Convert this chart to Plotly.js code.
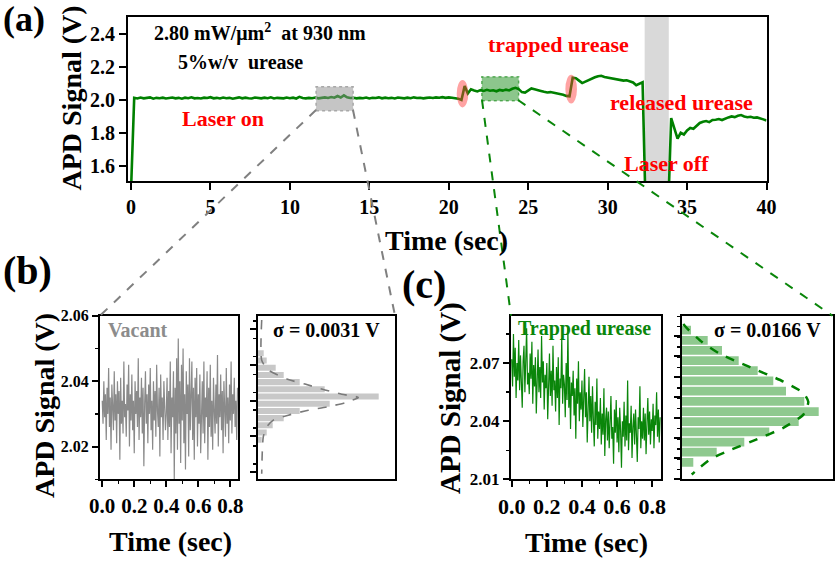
<!DOCTYPE html>
<html>
<head>
<meta charset="utf-8">
<script src="https://cdn.plot.ly/plotly-3.0.1.min.js"></script>
<style>
  html, body { margin: 0; padding: 0; background: #fff; }
  #chart { width: 837px; height: 569px; }
</style>
</head>
<body>
<div id="chart"></div>
<script>
// ---- data ----

// (a) whole APD record, one sample every 0.2 s (values below 1.5 V = laser off / off scale)
const aStep = 0.2;
const aSignal = [
  1.45,
  2.013, 2.009, 2.015, 2.010, 2.012, 2.016, 2.008, 2.013, 2.011, 2.014,
  2.009, 2.012, 2.015, 2.010, 2.013, 2.008, 2.014, 2.011, 2.016, 2.010,
  2.012, 2.009, 2.014, 2.012, 2.017, 2.010, 2.013, 2.009, 2.015, 2.011,
  2.013, 2.008, 2.012, 2.016, 2.010, 2.014, 2.011, 2.009, 2.015, 2.012,
  2.010, 2.014, 2.011, 2.016, 2.009, 2.013, 2.012, 2.010, 2.015, 2.011,
  2.014, 2.009, 2.019, 2.012, 2.010, 2.013, 2.011, 2.015, 2.010, 2.013,
  2.016, 2.012, 2.018, 2.014, 2.024, 2.015, 2.028, 2.016, 2.012, 2.014,
  2.010, 2.013, 2.011, 2.015, 2.009, 2.013, 2.012, 2.016, 2.010, 2.014,
  2.011, 2.013, 2.009, 2.015, 2.012, 2.010, 2.014, 2.011, 2.016, 2.012,
  2.014, 2.010, 2.013, 2.015, 2.012, 2.016, 2.014, 2.017, 2.013, 2.016,
  2.014, 2.012,
  2.008, 2.000, 2.085, 2.040, 2.065,
  2.058, 2.052, 2.060, 2.055, 2.062, 2.056, 2.059, 2.053, 2.061, 2.057,
  2.063, 2.058, 2.068, 2.074,
  2.066, 2.048, 2.045, 2.058, 2.070, 2.065, 2.058, 2.055, 2.050, 2.046,
  2.048, 2.044, 2.040, 2.038, 2.032, 2.025, 2.022, 2.135, 2.132, 2.118,
  2.103, 2.112, 2.122, 2.130, 2.138, 2.145, 2.147, 2.140, 2.137, 2.133,
  2.128, 2.128, 2.122, 2.118, 2.120, 2.112, 2.107, 2.090, 2.100, 2.108,
  1.3, 1.3, 1.3, 1.3, 1.3, 1.3, 1.3, 1.3,
  1.890, 1.830, 1.765, 1.800, 1.790, 1.815, 1.830, 1.825, 1.845, 1.860,
  1.868, 1.872, 1.865, 1.878, 1.880, 1.884, 1.878, 1.888, 1.894, 1.900,
  1.896, 1.904, 1.908, 1.900, 1.895, 1.898, 1.892, 1.894, 1.886, 1.882,
  1.875
];
const laserOffWindow = [32.33, 33.85];
const vacantWindow = { t: [11.65, 13.98], v: [1.935, 2.081] };
const trappedWindow = { t: [22.08, 24.4], v: [1.996, 2.142] };
const trapEvents = [
  { t: [20.5, 21.23], v: [1.955, 2.122] },
  { t: [27.34, 28.07], v: [1.979, 2.154] }
];

// (b) and (c) zoomed records, one sample every 5 ms
const zoomStep = 0.005;
const bSignal = [
  2.034, 2.027, 2.040, 2.029, 2.036, 2.022, 2.038, 2.030, 2.044, 2.026,
  2.035, 2.019, 2.039, 2.031, 2.025, 2.043, 2.028, 2.036, 2.021, 2.040,
  2.030, 2.037, 2.016, 2.041, 2.027, 2.034, 2.024, 2.046, 2.029, 2.033,
  2.023, 2.039, 2.031, 2.045, 2.020, 2.036, 2.028, 2.042, 2.025, 2.034,
  2.018, 2.040, 2.030, 2.037, 2.026, 2.047, 2.022, 2.035, 2.029, 2.041,
  2.024, 2.038, 2.014, 2.033, 2.043, 2.027, 2.036, 2.021, 2.039, 2.030,
  2.044, 2.025, 2.034, 2.019, 2.040, 2.028, 2.037, 2.023, 2.045, 2.031,
  2.026, 2.038, 2.017, 2.042, 2.029, 2.035, 2.022, 2.040, 2.032, 2.025,
  2.030, 2.041, 2.022, 2.037, 2.026, 2.046, 2.018, 2.035, 2.029, 2.043,
  2.010, 2.038, 2.024, 2.047, 2.019, 2.053, 2.027, 2.040, 2.015, 2.045,
  2.028, 2.050, 2.021, 2.036, 2.013, 2.043, 2.030, 2.039, 2.017, 2.047,
  2.025, 2.034, 2.046, 2.022, 2.038, 2.016, 2.041, 2.029, 2.044, 2.020,
  2.036, 2.027, 2.042, 2.018, 2.033, 2.040, 2.024, 2.046, 2.021, 2.035,
  2.029, 2.043, 2.016, 2.038, 2.026, 2.045, 2.023, 2.034, 2.019, 2.041,
  2.031, 2.024, 2.039, 2.027, 2.048, 2.020, 2.036, 2.029, 2.042, 2.025,
  2.037, 2.018, 2.040, 2.030, 2.023, 2.044, 2.027, 2.035, 2.021, 2.039,
  2.028, 2.046, 2.024, 2.036, 2.030, 2.041, 2.026, 2.034, 2.022, 2.038
];
const cSignal = [
  2.072, 2.058, 2.085, 2.063, 2.078, 2.052, 2.070, 2.061, 2.082, 2.056,
  2.074, 2.060, 2.047, 2.071, 2.079, 2.055, 2.068, 2.088, 2.059, 2.065,
  2.054, 2.075, 2.062, 2.081, 2.049, 2.069, 2.058, 2.073, 2.044, 2.066,
  2.077, 2.055, 2.068, 2.052, 2.084, 2.060, 2.071, 2.046, 2.064, 2.057,
  2.070, 2.041, 2.063, 2.075, 2.053, 2.066, 2.048, 2.079, 2.056, 2.061,
  2.045, 2.068, 2.052, 2.073, 2.038, 2.062, 2.057, 2.083, 2.049, 2.064,
  2.059, 2.042, 2.070, 2.051, 2.088, 2.047, 2.063, 2.036, 2.060, 2.053,
  2.066, 2.043, 2.057, 2.031, 2.062, 2.049, 2.071, 2.040, 2.055, 2.046,
  2.061, 2.037, 2.052, 2.067, 2.042, 2.055, 2.029, 2.049, 2.063, 2.040,
  2.053, 2.034, 2.058, 2.041, 2.027, 2.050, 2.038, 2.062, 2.031, 2.045,
  2.036, 2.052, 2.028, 2.044, 2.033, 2.057, 2.022, 2.041, 2.047, 2.030,
  2.045, 2.026, 2.040, 2.053, 2.031, 2.037, 2.018, 2.046, 2.034, 2.051,
  2.029, 2.042, 2.024, 2.047, 2.035, 2.016, 2.040, 2.032, 2.050, 2.027,
  2.043, 2.030, 2.061, 2.025, 2.039, 2.034, 2.048, 2.021, 2.037, 2.044,
  2.028, 2.046, 2.033, 2.019, 2.042, 2.036, 2.058, 2.026, 2.040, 2.031,
  2.047, 2.030, 2.044, 2.023, 2.039, 2.052, 2.033, 2.045, 2.028, 2.041,
  2.035, 2.049, 2.026, 2.043, 2.038, 2.055, 2.032, 2.046, 2.029, 2.042
];

// histograms (bin centre in V, count) and the gaussian fits
const bBins = [2.0485, 2.0463, 2.0441, 2.0419, 2.0397, 2.0375, 2.0353, 2.0331, 2.0309, 2.0287, 2.0265, 2.0243, 2.0221];
const bCounts = [6, 9, 18, 26, 42, 67, 121, 72, 42, 26, 15, 9, 4];
const bFitCounts = [4, 4, 10.6, 30.6, 47.3, 67.3, 84, 100.6, 87.3, 69, 50.6, 30.6, 15.6, 9, 5.6, 4];
const bFitV = [2.0587, 2.0464, 2.0434, 2.0405, 2.0391, 2.0373, 2.0360, 2.0350, 2.0334, 2.0321, 2.0311, 2.0296, 2.0281, 2.0260, 2.0230, 2.0117];

const cBins = [2.0871, 2.0818, 2.0766, 2.0713, 2.0661, 2.0608, 2.0555, 2.0503, 2.0450, 2.0398, 2.0345, 2.0292, 2.0240, 2.0187];
const cCounts = [9, 25.7, 40, 56.7, 75.7, 91.3, 104, 122.3, 136.7, 116.7, 87.3, 62.3, 34.7, 11.3];
const cFitCounts = [1.3, 5.3, 20.3, 38, 66.3, 101.3, 121.3, 126.3, 121.3, 101.3, 74.7, 49.7, 29.7, 13.7, 9.7];
const cFitV = [2.0902, 2.0878, 2.0808, 2.0748, 2.0683, 2.0605, 2.0546, 2.0500, 2.0434, 2.0366, 2.0306, 2.0254, 2.0208, 2.0143, 2.0125];

// ---- helpers ----
const W = 837, H = 569;
const serif = 'Liberation Serif';
const xd = (l, r) => [l / W, r / W];
const yd = (t, b) => [1 - b / H, 1 - t / H];
const sampleTimes = (n, step) => Array.from({ length: n }, (_, i) => +(i * step).toFixed(4));
const boldFont = (size) => ({ family: serif, size: size, color: 'black', weight: 700 });

function frame(extra) {
    return Object.assign({
        showline: true, linewidth: 2, linecolor: 'black', mirror: true,
        ticks: 'outside', ticklen: 6, tickwidth: 2, tickcolor: 'black',
        showgrid: false, zeroline: false,
        tickfont: boldFont(20)
    }, extra);
}
const minor = (dtick) => ({ dtick: dtick, ticks: 'outside', ticklen: 3, tickwidth: 1.5, tickcolor: 'black', showgrid: false });

function label(text, x, y, size, color, angle) {
    return {
        text: '<b>' + text + '</b>', xref: 'paper', yref: 'paper',
        x: x / W, y: 1 - y / H, xanchor: 'center', yanchor: 'middle',
        showarrow: false, textangle: angle || 0,
        font: { family: serif, size: size, color: color || 'black' }
    };
}

function connector(x0, y0, x1, y1, color) {
    return {
        type: 'line', xref: 'paper', yref: 'paper',
        x0: x0 / W, y0: 1 - y0 / H, x1: x1 / W, y1: 1 - y1 / H,
        line: { color: color, width: 2, dash: 'dash' }
    };
}

// ---- traces ----
const traces = [
    {
        x: sampleTimes(aSignal.length, aStep), y: aSignal,
        xaxis: 'x', yaxis: 'y', type: 'scatter', mode: 'lines',
        line: { color: '#008000', width: 2.6 }
    },
    {
        x: sampleTimes(bSignal.length, zoomStep), y: bSignal,
        xaxis: 'x2', yaxis: 'y2', type: 'scatter', mode: 'lines',
        line: { color: '#8a8a8a', width: 1.2 }
    },
    {
        x: bCounts, y: bBins, type: 'bar', orientation: 'h', width: 0.00185,
        xaxis: 'x3', yaxis: 'y3', marker: { color: '#c8c8c8' }
    },
    {
        x: bFitCounts, y: bFitV, xaxis: 'x3', yaxis: 'y3', type: 'scatter', mode: 'lines',
        line: { color: '#7a7a7a', width: 1.6, dash: 'dash', shape: 'spline', smoothing: 0.6 }
    },
    {
        x: sampleTimes(cSignal.length, zoomStep), y: cSignal,
        xaxis: 'x4', yaxis: 'y4', type: 'scatter', mode: 'lines',
        line: { color: '#0a860a', width: 1.2 }
    },
    {
        x: cCounts, y: cBins, type: 'bar', orientation: 'h', width: 0.0045,
        xaxis: 'x5', yaxis: 'y5', marker: { color: '#8fc98f' }
    },
    {
        x: cFitCounts, y: cFitV, xaxis: 'x5', yaxis: 'y5', type: 'scatter', mode: 'lines',
        line: { color: '#008000', width: 2.5, dash: 'dash', shape: 'spline', smoothing: 0.6 }
    }
];

// ---- layout ----
const rowB = yd(315.7, 479.3);
const layout = {
    width: W, height: H,
    margin: { l: 0, r: 0, t: 0, b: 0 },
    paper_bgcolor: 'white', plot_bgcolor: 'white',
    showlegend: false,
    font: { family: serif, color: 'black', weight: 700 },

    // (a)
    xaxis: frame({ domain: xd(128, 766.5), range: [-0.19, 40], dtick: 5, tick0: 0, ticklen: 7, anchor: 'y' }),
    yaxis: frame({ domain: yd(17, 181), range: [1.507, 2.505], dtick: 0.2, tick0: 1.6, ticklen: 7, tickformat: '.1f', anchor: 'x' }),

    // (b) time trace
    xaxis2: frame({ domain: xd(100, 238.3), range: [-0.014, 0.85], dtick: 0.2, tick0: 0, tickformat: '.1f',
        minor: minor(0.1), anchor: 'y2', tickfont: boldFont(21) }),
    yaxis2: frame({ domain: rowB, range: [2.01, 2.06], dtick: 0.02, tick0: 2.0, tickformat: '.2f',
        minor: minor(0.01), anchor: 'x2', tickfont: boldFont(16) }),
    // (b) histogram
    xaxis3: frame({ domain: xd(257.7, 395), range: [0, 137.3], ticks: '', showticklabels: false, anchor: 'y3' }),
    yaxis3: frame({ domain: rowB, range: [2.01, 2.06], tick0: 2.0122, dtick: 0.01092, showticklabels: false,
        minor: minor(0.00546), anchor: 'x3' }),

    // (c) time trace
    xaxis4: frame({ domain: xd(511, 661), range: [-0.004, 0.85], dtick: 0.2, tick0: 0, tickformat: '.1f',
        minor: minor(0.1), anchor: 'y4', tickfont: boldFont(22) }),
    yaxis4: frame({ domain: rowB, range: [2.01, 2.0945], dtick: 0.03, tick0: 2.01, tickformat: '.2f',
        minor: minor(0.015), anchor: 'x4', tickfont: boldFont(17) }),
    // (c) histogram
    xaxis5: frame({ domain: xd(682, 832.5), range: [0, 150.5], ticks: '', showticklabels: false, anchor: 'y5' }),
    yaxis5: frame({ domain: rowB, range: [2.01, 2.0945], tick0: 2.0208, dtick: 0.01055, showticklabels: false,
        minor: minor(0.005275), anchor: 'x5' }),

    shapes: [
        { type: 'rect', xref: 'x', yref: 'y domain', x0: laserOffWindow[0], x1: laserOffWindow[1], y0: 0, y1: 1,
          fillcolor: '#d9d9d9', line: { width: 0 }, layer: 'below' },
        { type: 'rect', xref: 'x', yref: 'y', x0: vacantWindow.t[0], x1: vacantWindow.t[1], y0: vacantWindow.v[0], y1: vacantWindow.v[1],
          fillcolor: 'rgba(140,140,140,0.5)', line: { color: '#a8a8a8', width: 1.5, dash: 'dot' } },
        { type: 'rect', xref: 'x', yref: 'y', x0: trappedWindow.t[0], x1: trappedWindow.t[1], y0: trappedWindow.v[0], y1: trappedWindow.v[1],
          fillcolor: 'rgba(0,128,0,0.45)', line: { color: 'rgba(0,128,0,0.55)', width: 1.5, dash: 'dot' } },
        ...trapEvents.map(e => ({
            type: 'circle', xref: 'x', yref: 'y', x0: e.t[0], x1: e.t[1], y0: e.v[0], y1: e.v[1],
            fillcolor: 'rgba(255,50,50,0.45)', line: { width: 0 }
        })),
        connector(316, 110, 100, 315.7, '#808080'),
        connector(353, 110, 395, 315.7, '#808080'),
        connector(482, 100, 511, 315.7, '#0a860a'),
        connector(518, 100, 832.5, 315.7, '#0a860a')
    ],

    annotations: [
        label('(a)', 24, 19, 36),
        label('(b)', 27, 270, 40),
        label('(c)', 424, 284, 40),
        label('APD Signal (V)', 71.5, 98, 28, 'black', -90),
        label('Time (sec)', 446.5, 240, 28),
        label('APD Signal (V)', 44, 406, 28, 'black', -90),
        label('Time (sec)', 170, 541, 28),
        label('APD Signal (V)', 451, 398, 29, 'black', -90),
        label('Time (sec)', 586, 542, 28),
        label('2.80 mW/μm<sup>2</sup>&nbsp; at 930 nm', 260, 32, 20),
        label('5%w/v&nbsp; urease', 240, 62, 20),
        label('Laser on', 223, 119, 22, '#ff0000'),
        label('trapped urease', 558.5, 44, 22, '#ff0000'),
        label('released urease', 681, 102, 22, '#ff0000'),
        label('Laser off', 666, 163.5, 22, '#ff0000'),
        label('Vacant', 138, 330, 20, '#8c8c8c'),
        label('σ = 0.0031 V', 326, 330, 20),
        label('Trapped urease', 584, 328.5, 20, '#0a860a'),
        label('σ = 0.0166 V', 767, 330, 20)
    ]
};

Plotly.newPlot('chart', traces, layout, { displayModeBar: false, staticPlot: true });
</script>
</body>
</html>
